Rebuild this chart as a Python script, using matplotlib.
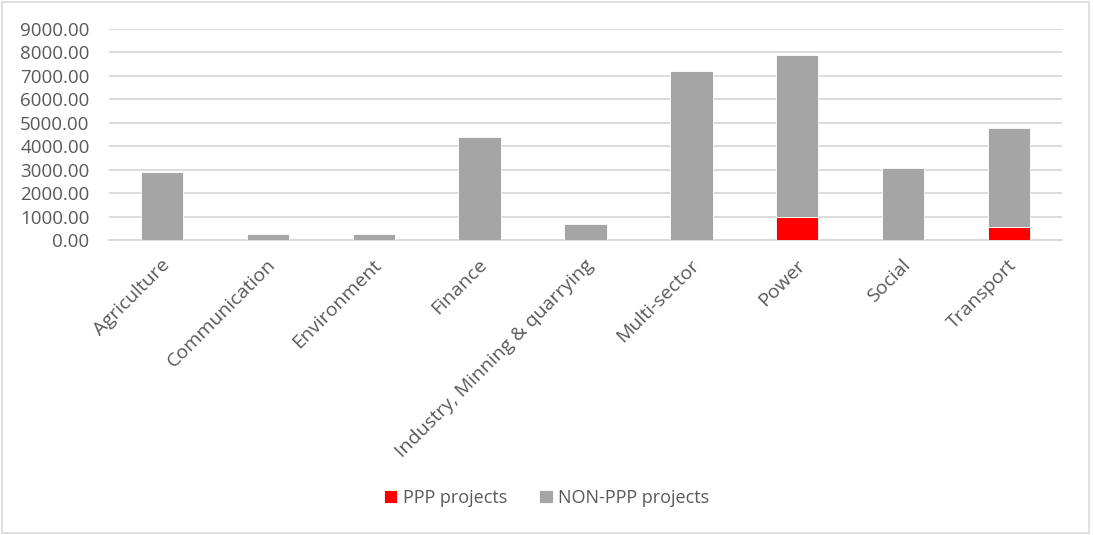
import numpy as np
import matplotlib.pyplot as plt
from matplotlib.patches import Rectangle
from matplotlib.transforms import ScaledTranslation

# sector totals
sectors = ['Agriculture', 'Communication', 'Environment', 'Finance',
           'Industry, Minning & quarrying', 'Multi-sector', 'Power',
           'Social', 'Transport']
ppp = [0, 0, 0, 0, 0, 0, 970, 0, 560]
non_ppp = [2890, 250, 250, 4380, 670, 7200, 6910, 3050, 4220]

plt.rcParams['font.family'] = ['Open Sans', 'DejaVu Sans']
text_col = '#595959'
grid_col = '#D9D9D9'

fig = plt.figure(figsize=(10.93, 5.35), dpi=100)
ax = fig.add_axes([0.0997, 0.5514, 0.8719, 0.3953])

x = np.arange(len(sectors))
ax.bar(x, ppp, width=0.4, color='#FF0000', edgecolor='white', linewidth=0.6,
       label='PPP projects', zorder=3)
ax.bar(x, non_ppp, width=0.4, bottom=ppp, color='#A5A5A5', edgecolor='white',
       linewidth=0.6, label='NON-PPP projects', zorder=3)

ax.set_xlim(-0.5, len(sectors) - 0.5)
ax.set_ylim(0, 9000)
ax.set_yticks(np.arange(0, 9001, 1000))
ax.set_yticklabels([f'{v:.2f}' for v in np.arange(0, 9001, 1000)])
ax.yaxis.grid(True, color=grid_col, linewidth=1.3, zorder=0)
ax.set_axisbelow(True)
for s in ['top', 'right', 'left']:
    ax.spines[s].set_visible(False)
ax.spines['bottom'].set_color(grid_col)
ax.spines['bottom'].set_linewidth(1.3)

ax.set_xticks(x)
ax.set_xticklabels(sectors, rotation=45, ha='right', va='center',
                   rotation_mode='anchor')
ax.tick_params(axis='x', length=0, pad=16, labelsize=14, labelcolor=text_col)
ax.tick_params(axis='y', length=0, pad=14, labelsize=13.5, labelcolor=text_col)
# nudge the slanted labels a little to the right
shift = ScaledTranslation(5 / 100, 0, fig.dpi_scale_trans)
for lab in ax.get_xticklabels():
    lab.set_transform(lab.get_transform() + shift)

leg = fig.legend(loc='center', bbox_to_anchor=(0.5, 0.07), ncol=2, frameon=False,
                 fontsize=13, handlelength=0.75, handleheight=0.75,
                 handletextpad=0.3, columnspacing=1.8)
for t in leg.get_texts():
    t.set_color(text_col)

# thin border round the whole chart
fig.patches.append(Rectangle((0.002, 0.003), 0.994, 0.994, transform=fig.transFigure,
                             fill=False, edgecolor=grid_col, linewidth=1.2))

fig.savefig('out.png', dpi=100)
